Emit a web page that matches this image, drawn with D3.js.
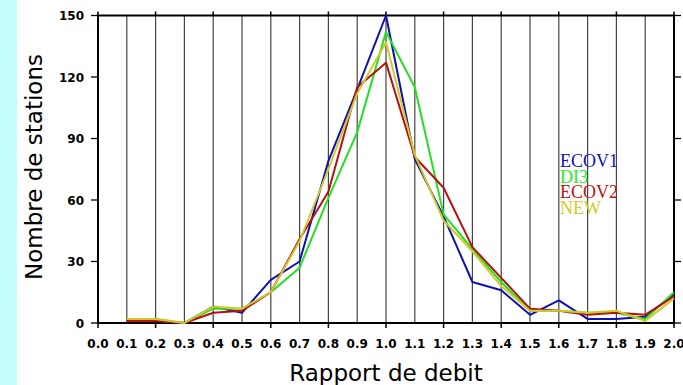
<!DOCTYPE html>
<html>
<head>
<meta charset="utf-8">
<script src="https://cdn.jsdelivr.net/npm/d3@7"></script>
<style>
  body { margin: 0; background: #fff; }
  svg { display: block; }
  .tick-label { font-family: "DejaVu Sans", sans-serif; font-weight: bold; font-size: 12px; }
  .axis-title { font-family: "DejaVu Sans", sans-serif; font-size: 23px; }
  .legend { font-family: "Liberation Serif", "Times New Roman", serif; font-size: 18px; }
</style>
</head>
<body>
<div id="chart"></div>
<script>
// Rapport de debit histogram - four runs

const ratios = [0.1, 0.2, 0.3, 0.4, 0.5, 0.6, 0.7, 0.8, 0.9, 1.0,
                1.1, 1.2, 1.3, 1.4, 1.5, 1.6, 1.7, 1.8, 1.9, 2.0];
const ecov1 = [1, 1, 0, 8, 5, 21, 30, 79, 114, 150, 80, 52, 20, 16, 4, 11, 2, 2, 3, 14];
const di3   = [2, 2, 0, 7, 7, 15, 27, 61, 93, 142, 115, 53, 36, 20, 6, 6, 5, 5, 2, 15];
const ecov2 = [1, 1, 0, 5, 6, 15, 41, 64, 115, 127, 81, 66, 37, 22, 7, 6, 4, 5, 4, 13];
const newer = [2, 2, 0, 8, 7, 15, 40, 75, 112, 137, 82, 50, 35, 18, 6, 6, 5, 6, 1, 12];

const seriesNames = ['ECOV1', 'DI3', 'ECOV2', 'NEW'];
const seriesValues = [ecov1, di3, ecov2, newer];
const seriesColors = ['#1010b0', '#22e022', '#b81010', '#cfca2c'];
const legendColors = ['#1010b8', '#22ee22', '#c01010', '#cccc22'];

const xTicks = d3.range(0, 21).map(i => i / 10);
const yTicks = [0, 30, 60, 90, 120, 150];

const W = 683, H = 385;

const svg = d3.select('#chart')
    .append('svg')
    .attr('width', W)
    .attr('height', H);

// light cyan strip on the left
svg.append('rect')
    .attr('x', 0).attr('y', 0)
    .attr('width', 17).attr('height', H)
    .attr('fill', '#c4fefe');

const x = d3.scaleLinear().domain([0, 2]).range([98, 674]);
const y = d3.scaleLinear().domain([0, 150]).range([323, 15.5]);

// vertical grid lines every 0.1
svg.append('g')
    .selectAll('line')
    .data(xTicks)
    .enter().append('line')
    .attr('x1', d => x(d)).attr('x2', d => x(d))
    .attr('y1', y(150)).attr('y2', y(0))
    .attr('stroke', '#444')
    .attr('stroke-width', 1.2);

// major ticks on top and bottom every 0.2
const majors = xTicks.filter((d, i) => i % 2 === 0);
svg.append('g')
    .selectAll('line')
    .data(majors)
    .enter().append('line')
    .attr('x1', d => x(d)).attr('x2', d => x(d))
    .attr('y1', y(0)).attr('y2', y(0) + 5)
    .attr('stroke', '#000').attr('stroke-width', 1.5);
svg.append('g')
    .selectAll('line')
    .data(majors)
    .enter().append('line')
    .attr('x1', d => x(d)).attr('x2', d => x(d))
    .attr('y1', y(150)).attr('y2', y(150) - 4)
    .attr('stroke', '#000').attr('stroke-width', 1.5);

// y ticks left and right
svg.append('g')
    .selectAll('line')
    .data(yTicks)
    .enter().append('line')
    .attr('x1', x(0) - 7).attr('x2', x(0))
    .attr('y1', d => y(d)).attr('y2', d => y(d))
    .attr('stroke', '#000').attr('stroke-width', 1.3);
svg.append('g')
    .selectAll('line')
    .data(yTicks)
    .enter().append('line')
    .attr('x1', x(2)).attr('x2', x(2) + 7)
    .attr('y1', d => y(d)).attr('y2', d => y(d))
    .attr('stroke', '#000').attr('stroke-width', 1.3);

// frame
svg.append('rect')
    .attr('x', x(0)).attr('y', y(150))
    .attr('width', x(2) - x(0)).attr('height', y(0) - y(150))
    .attr('fill', 'none')
    .attr('stroke', '#000')
    .attr('stroke-width', 2);

// tick labels
svg.append('g')
    .selectAll('text')
    .data(xTicks)
    .enter().append('text')
    .attr('class', 'tick-label')
    .attr('x', d => x(d))
    .attr('y', 348)
    .attr('text-anchor', 'middle')
    .text(d => d.toFixed(1));

svg.append('g')
    .selectAll('text')
    .data(yTicks)
    .enter().append('text')
    .attr('class', 'tick-label')
    .attr('x', 84)
    .attr('y', d => y(d) + 4.5)
    .attr('text-anchor', 'end')
    .text(d => d);

// axis titles
svg.append('text')
    .attr('class', 'axis-title')
    .attr('x', 386)
    .attr('y', 381)
    .attr('text-anchor', 'middle')
    .text('Rapport de debit');

svg.append('text')
    .attr('class', 'axis-title')
    .attr('transform', 'translate(42,167) rotate(-90)')
    .attr('text-anchor', 'middle')
    .text('Nombre de stations');

// lines
const line = d3.line()
    .x((d, i) => x(ratios[i]))
    .y(d => y(d));

seriesValues.forEach((vals, k) => {
    svg.append('path')
        .datum(vals)
        .attr('d', line)
        .attr('fill', 'none')
        .attr('stroke', seriesColors[k])
        .attr('stroke-width', 2)
        .attr('stroke-linejoin', 'round');
});

// legend
seriesNames.forEach((name, k) => {
    svg.append('text')
        .attr('class', 'legend')
        .attr('x', 560)
        .attr('y', 167 + k * 15.7)
        .attr('fill', legendColors[k])
        .text(name);
});
</script>
</body>
</html>
